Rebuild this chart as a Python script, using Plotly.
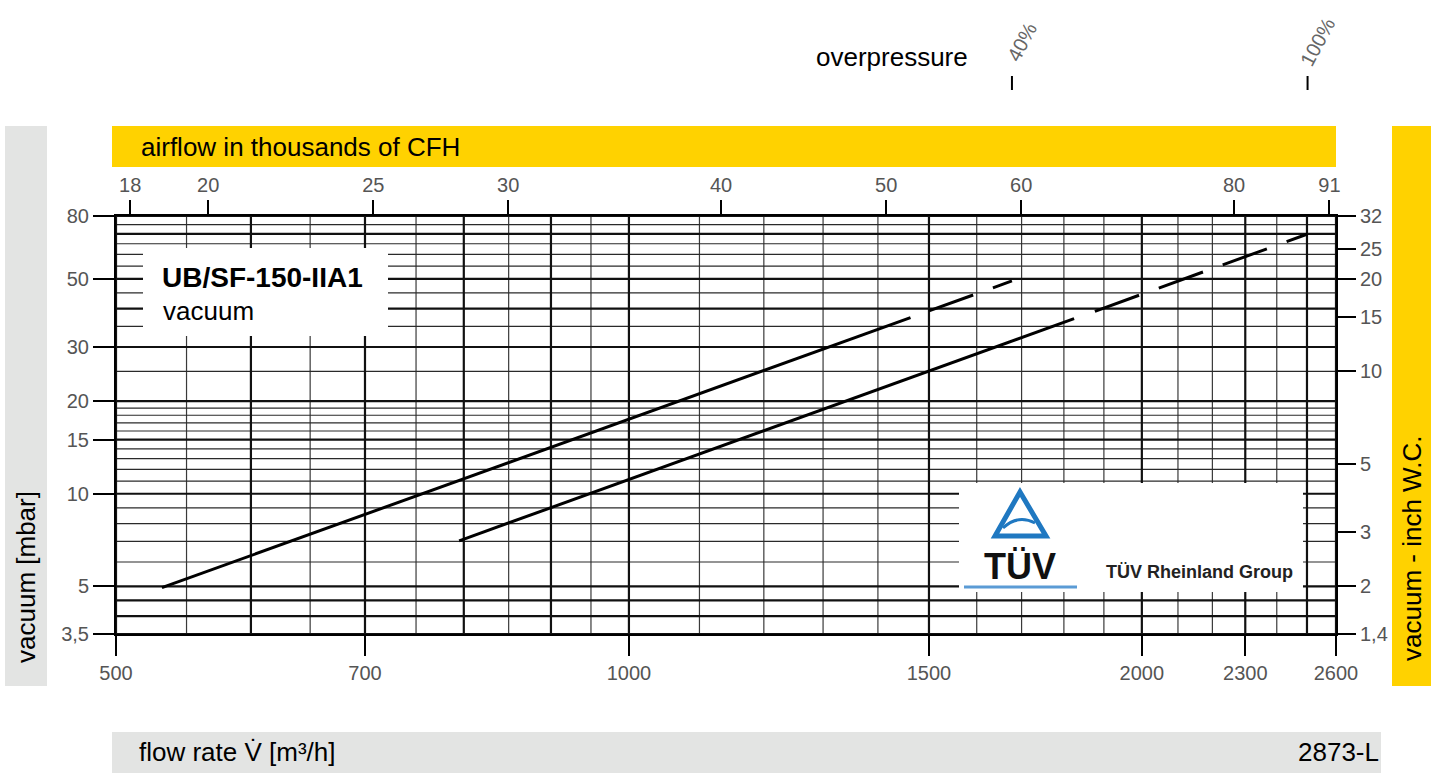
import math
import plotly.graph_objects as go

# ---------------- data ----------------
# curve "40%" (solid part, dashed continuation)
flow_40_solid = [532, 1463]
vac_40_solid = [4.95, 37.4]
flow_40_dash = [1500, 1678]
vac_40_dash = [39.3, 49.2]
# curve "100%"
flow_100_solid = [795, 1825]
vac_100_solid = [7.03, 37.1]
flow_100_dash = [1877, 2502]
vac_100_dash = [39.2, 69.9]

overpressure_labels = ["40%", "100%"]

x_ticks = [500, 700, 1000, 1500, 2000, 2300, 2600]
y_ticks = [3.5, 5, 10, 15, 20, 30, 50, 80]
y_ticktext = ["3,5", "5", "10", "15", "20", "30", "50", "80"]
cfh_ticks = [18, 20, 25, 30, 40, 50, 60, 80, 91]
inwc_ticks = [1.4, 2, 3, 5, 10, 15, 20, 25, 32]
inwc_ticktext = ["1,4", "2", "3", "5", "10", "15", "20", "25", "32"]

grid_x_major = [500, 600, 700, 800, 900, 1000, 1500, 2000, 2300, 2500, 2600]
grid_x_minor = [550, 650, 750, 850, 950, 1100, 1200, 1300, 1400, 1600, 1700,
                1800, 1900, 2100, 2200, 2400]
grid_y_major = [80, 70, 50, 40, 30, 20, 15, 10, 5, 4.5, 4, 3.5]
grid_y_minor = [75, 65, 60, 55, 45, 35, 25, 19, 18, 17, 16, 14, 13, 12, 11,
                9, 8, 7, 6]

X_MIN, X_MAX = 500, 2600
Y_MIN, Y_MAX = 3.5, 80
M3H_TO_KCFH = 35.3147 / 1000.0
MBAR_PER_INWC = 2.5

FONT = "Liberation Sans, Arial, sans-serif"

# ---------------- layout helpers (pixel -> paper) ----------------
W, H = 1431, 776
L, R, T, B = 116, 1336, 216, 634


def PX(x):
    return (x - L) / (R - L)


def PY(y):
    return (B - y) / (B - T)


def flow_to_paper(f):
    return math.log10(f / X_MIN) / math.log10(X_MAX / X_MIN)


fig = go.Figure()


def grid_trace(vals, vertical, width, color):
    xs, ys = [], []
    for v in vals:
        if vertical:
            xs += [v, v, None]
            ys += [Y_MIN, Y_MAX, None]
        else:
            xs += [X_MIN, X_MAX, None]
            ys += [v, v, None]
    return go.Scatter(x=xs, y=ys, mode="lines", line=dict(color=color, width=width),
                      hoverinfo="skip", showlegend=False)


fig.add_trace(grid_trace(grid_x_minor, True, 1.2, "#3a3a3a"))
fig.add_trace(grid_trace(grid_y_minor, False, 1.2, "#2a2a2a"))
fig.add_trace(grid_trace(grid_x_major, True, 2.2, "#111111"))
fig.add_trace(grid_trace(grid_y_major, False, 2.2, "#111111"))

curve_line = dict(color="#000000", width=3)
dash_line = dict(color="#000000", width=3, dash="47px,21px")
fig.add_trace(go.Scatter(x=flow_40_solid, y=vac_40_solid, mode="lines", line=curve_line,
                         showlegend=False, name="40%"))
fig.add_trace(go.Scatter(x=flow_40_dash, y=vac_40_dash, mode="lines", line=dash_line,
                         showlegend=False, name="40%"))
fig.add_trace(go.Scatter(x=flow_100_solid, y=vac_100_solid, mode="lines", line=curve_line,
                         showlegend=False, name="100%"))
fig.add_trace(go.Scatter(x=flow_100_dash, y=vac_100_dash, mode="lines", line=dash_line,
                         showlegend=False, name="100%"))

# invisible traces so that the secondary axes are drawn
fig.add_trace(go.Scatter(x=[30], y=[10], xaxis="x2", yaxis="y", mode="markers",
                         marker=dict(opacity=0), hoverinfo="skip", showlegend=False))
fig.add_trace(go.Scatter(x=[1000], y=[5], xaxis="x", yaxis="y2", mode="markers",
                         marker=dict(opacity=0), hoverinfo="skip", showlegend=False))

tickfont = dict(family=FONT, size=20, color="#555555")
common = dict(type="log", showgrid=False, zeroline=False, showline=True,
              linecolor="#000000", linewidth=2, ticks="outside", tickwidth=2,
              tickcolor="#000000", tickfont=tickfont, automargin=False, fixedrange=True)

fig.update_layout(
    template="none",
    width=W, height=H, autosize=False,
    margin=dict(l=L, r=W - R, t=T, b=H - B, pad=0),
    paper_bgcolor="white", plot_bgcolor="white",
    showlegend=False,
    xaxis=dict(range=[math.log10(X_MIN), math.log10(X_MAX)], tickvals=x_ticks,
               ticktext=[str(v) for v in x_ticks], ticklen=20, **common),
    xaxis2=dict(range=[math.log10(X_MIN * M3H_TO_KCFH), math.log10(X_MAX * M3H_TO_KCFH)],
                tickvals=cfh_ticks, ticktext=[str(v) for v in cfh_ticks],
                overlaying="x", side="top", anchor="y", ticklen=14, **common),
    yaxis=dict(range=[math.log10(Y_MIN), math.log10(Y_MAX)], tickvals=y_ticks,
               ticktext=y_ticktext, ticklen=21, **common),
    yaxis2=dict(range=[math.log10(Y_MIN / MBAR_PER_INWC), math.log10(Y_MAX / MBAR_PER_INWC)],
                tickvals=inwc_ticks, ticktext=inwc_ticktext, overlaying="y", side="right",
                anchor="x", ticklen=18, **common),
)

shapes = []


def rect(x0, y0, x1, y1, color):
    shapes.append(dict(type="rect", xref="paper", yref="paper", x0=PX(x0), x1=PX(x1),
                       y0=PY(y1), y1=PY(y0), fillcolor=color, line=dict(width=0),
                       layer="above"))


rect(5, 126, 47, 686, "#e3e4e3")          # left band
rect(112, 126, 1336, 167, "#ffd200")      # top band
rect(1392, 126, 1440, 686, "#ffd200")     # right band
rect(112, 732, 1381, 773, "#e3e4e3")      # bottom band
rect(143, 248, 388, 336, "#ffffff")       # model label box
rect(959, 483, 1303, 592, "#ffffff")      # logo box

# overpressure ticks at the curve ends
for f in [flow_40_dash[-1], flow_100_dash[-1]]:
    xp = flow_to_paper(f)
    shapes.append(dict(type="line", xref="paper", yref="paper", x0=xp, x1=xp,
                       y0=PY(90), y1=PY(76), line=dict(color="#000", width=2)))

# TUV logo
def P(x, y):
    return f"{PX(x)},{PY(y)}"


shapes.append(dict(type="path", xref="paper", yref="paper",
                   path=f"M {P(1020,492)} L {P(995,536)} L {P(1046,536)} Z",
                   line=dict(color="#1f78c1", width=5), layer="above"))
shapes.append(dict(type="path", xref="paper", yref="paper",
                   path=f"M {P(1003,528)} Q {P(1018,514)} {P(1035,523)}",
                   line=dict(color="#1f78c1", width=3), layer="above"))
shapes.append(dict(type="line", xref="paper", yref="paper", x0=PX(964), x1=PX(1077),
                   y0=PY(587), y1=PY(587), line=dict(color="#5b9bd5", width=3),
                   layer="above"))
fig.update_layout(shapes=shapes)

ann = []


def text(s, x, y, size=26, xanchor="left", color="#000", angle=0, bold=False):
    if bold:
        s = f"<b>{s}</b>"
    ann.append(dict(text=s, xref="paper", yref="paper", x=PX(x), y=PY(y),
                    xanchor=xanchor, yanchor="middle", showarrow=False, textangle=angle,
                    font=dict(family=FONT, size=size, color=color)))


text("airflow in thousands of CFH", 139, 147)
text("vacuum [mbar]", 26, 577, xanchor="center", angle=-90)
text("vacuum - inch W.C.", 1412, 548, xanchor="center", angle=-90)
text("flow rate V\u0307 [m\u00b3/h]", 137, 752)
text("2873-L", 1381, 752, xanchor="right")
text("overpressure", 970, 57, xanchor="right")
text("UB/SF-150-IIA1", 160, 277, size=28, bold=True)
text("vacuum", 161, 311)
text("TÜV", 1020, 566, size=36, xanchor="center", bold=True, color="#111")
text("TÜV Rheinland Group", 1104, 572, size=18, bold=True, color="#222")

for lab, f in zip(overpressure_labels, [flow_40_dash[-1], flow_100_dash[-1]]):
    xpix = L + flow_to_paper(f) * (R - L)
    ann.append(dict(text=lab, xref="paper", yref="paper", x=PX(xpix + 10), y=PY(42),
                    xanchor="center", yanchor="middle", showarrow=False, textangle=-62,
                    font=dict(family=FONT, size=20, color="#666666")))

fig.update_layout(annotations=ann)

fig.write_html("out.html",
               config={"displayModeBar": False},
               post_script="document.body.style.margin='0';document.body.style.padding='0';")
